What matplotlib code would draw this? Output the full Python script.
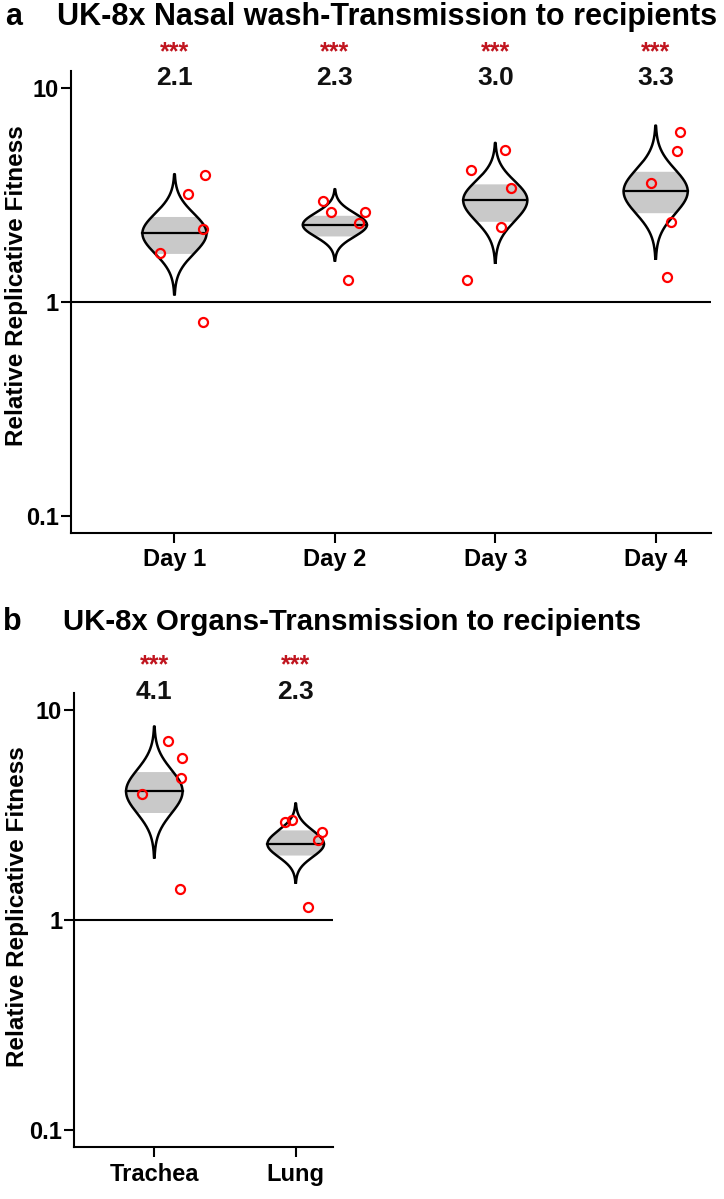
import numpy as np
import matplotlib
matplotlib.use('Agg')
import matplotlib.pyplot as plt
import matplotlib.transforms as mtransforms

plt.rcParams['font.family'] = ['Liberation Sans', 'DejaVu Sans']
plt.rcParams['font.weight'] = 'bold'

# ---------------- Panel a data ----------------
a_cats = ['Day 1', 'Day 2', 'Day 3', 'Day 4']
a_median = [2.1, 2.3, 3.0, 3.3]
a_tip_lo = [1.09, 1.57, 1.53, 1.60]
a_tip_hi = [3.97, 3.38, 5.56, 6.70]
a_ci_lo = [1.69, 2.04, 2.39, 2.62]
a_ci_hi = [2.52, 2.55, 3.58, 4.10]
a_labels = ['2.1', '2.3', '3.0', '3.3']
a_sig = ['***', '***', '***', '***']
a_points = [
    [3.93, 3.21, 2.19, 1.70, 0.806],
    [2.97, 2.64, 2.64, 2.34, 1.27],
    [5.16, 4.14, 3.42, 2.24, 1.27],
    [6.24, 5.12, 3.61, 2.38, 1.31],
]
a_jitter = [
    [0.19, 0.087, 0.18, -0.093, 0.18],
    [-0.075, -0.025, 0.187, 0.15, 0.081],
    [0.059, -0.15, 0.098, 0.036, -0.175],
    [0.15, 0.135, -0.027, 0.098, 0.071],
]

# ---------------- Panel b data ----------------
b_cats = ['Trachea', 'Lung']
b_median = [4.1, 2.3]
b_tip_lo = [1.99, 1.51]
b_tip_hi = [8.36, 3.60]
b_ci_lo = [3.25, 2.04]
b_ci_hi = [5.10, 2.69]
b_labels = ['4.1', '2.3']
b_sig = ['***', '***']
b_points = [
    [7.09, 5.91, 4.74, 3.98, 1.40],
    [2.94, 3.00, 2.64, 2.41, 1.16],
]
b_jitter = [
    [0.095, 0.196, 0.189, -0.089, 0.184],
    [-0.076, -0.024, 0.184, 0.156, 0.085],
]

W, H = 724, 1199
fig = plt.figure(figsize=(W / 100, H / 100), dpi=100)

GRAY = '#c9c9c9'
SIGRED = '#c0141e'
HALFW = 0.2


def fx(px):
    return px / W


def fy(py):
    return 1 - py / H


def draw_violin(ax, x, med, lo, hi, clo, chi):
    c = np.log10(med)
    up = np.log10(hi) - c
    dn = c - np.log10(lo)
    t = np.linspace(-1, 1, 801)
    ylog = np.where(t >= 0, c + t * up, c + t * dn)
    w = HALFW * np.exp(-(3.0 * t) ** 2 / 2)
    y = 10 ** ylog
    m = (y >= clo) & (y <= chi)
    ax.fill_betweenx(y[m], x - w[m], x + w[m], color=GRAY, lw=0, zorder=2)
    xs = np.concatenate([x - w, (x + w)[::-1]])
    ys = np.concatenate([y, y[::-1]])
    ax.plot(xs, ys, color='black', lw=1.8, zorder=3, solid_joinstyle='round')
    ax.plot([x - HALFW, x + HALFW], [med, med], color='black', lw=1.6, zorder=3)


def setup_axes(ax, cats, xlim, xpad):
    ax.set_yscale('log')
    ax.set_ylim(0.0833, 12.1)
    ax.set_xlim(*xlim)
    ax.set_yticks([0.1, 1, 10])
    ax.set_yticklabels(['0.1', '1', '10'])
    ax.yaxis.set_minor_locator(matplotlib.ticker.NullLocator())
    ax.set_xticks(range(1, len(cats) + 1))
    ax.set_xticklabels(cats)
    for s in ['top', 'right']:
        ax.spines[s].set_visible(False)
    for s in ['left', 'bottom']:
        ax.spines[s].set_linewidth(1.5)
    ax.tick_params(axis='both', width=1.5, length=7.2, labelsize=17, pad=1.5)
    ax.tick_params(axis='x', pad=xpad)
    ax.axhline(1, color='black', lw=1.5, zorder=1)


def draw_panel(ax, med, lo, hi, clo, chi, pts, jit, labels, sig, ynum, ysig):
    for i in range(len(med)):
        x = i + 1
        draw_violin(ax, x, med[i], lo[i], hi[i], clo[i], chi[i])
        ax.plot(np.array(jit[i]) + x, pts[i], 'o', mfc='none', mec='#ff0000',
                mew=1.6, ms=6.5, zorder=4, clip_on=False)
        tr = mtransforms.blended_transform_factory(ax.transData, fig.transFigure)
        ax.text(x, fy(ynum), labels[i], transform=tr, ha='center', va='center',
                fontsize=19, fontweight='bold', color='#111111')
        ax.text(x, fy(ysig), sig[i], transform=tr, ha='center', va='center',
                fontsize=18, fontweight='bold', color=SIGRED)


# Panel a axes (pixel geometry)
axa = fig.add_axes([fx(70.7), fy(533), fx(711 - 70.7), (533 - 70.7) / H])
setup_axes(axa, a_cats, (0.353, 4.345), 3.5)
draw_panel(axa, a_median, a_tip_lo, a_tip_hi, a_ci_lo, a_ci_hi, a_points, a_jitter,
           a_labels, a_sig, 78, 52)

axb = fig.add_axes([fx(74.3), fy(1146.7), fx(333 - 74.3), (1146.7 - 692.7) / H])
setup_axes(axb, b_cats, (0.434, 2.264), 4.5)
draw_panel(axb, b_median, b_tip_lo, b_tip_hi, b_ci_lo, b_ci_hi, b_points, b_jitter,
           b_labels, b_sig, 692, 665)

# Titles and panel letters
fig.text(fx(5), fy(25), 'a', fontsize=22, fontweight='bold', va='baseline')
fig.text(fx(56.7), fy(25), 'UK-8x Nasal wash-Transmission to recipients',
         fontsize=22, fontweight='bold', va='baseline')
fig.text(fx(3), fy(630), 'b', fontsize=22, fontweight='bold', va='baseline')
fig.text(fx(63.3), fy(630), 'UK-8x Organs-Transmission to recipients',
         fontsize=21.2, fontweight='bold', va='baseline')

# Y labels
fig.text(fx(17), fy(286), 'Relative Replicative Fitness', rotation=90,
         fontsize=17.5, fontweight='bold', ha='center', va='center')
fig.text(fx(17.5), fy(907), 'Relative Replicative Fitness', rotation=90,
         fontsize=17.5, fontweight='bold', ha='center', va='center')

fig.savefig('out.png', dpi=100)
